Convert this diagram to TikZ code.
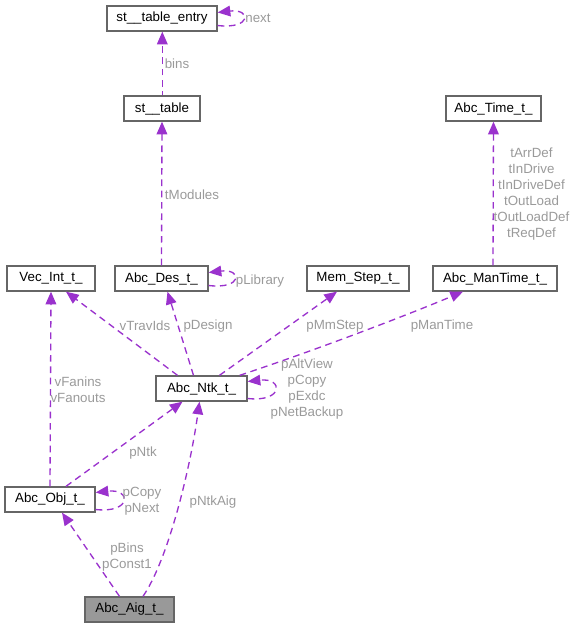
\documentclass[tikz,border=0pt]{standalone}
\usepackage{fontspec}
\setmainfont{Liberation Sans}
\usepackage{xcolor}
\usetikzlibrary{arrows.meta,calc}
\definecolor{edgepurple}{HTML}{9A32CD}
\definecolor{lblgray}{HTML}{9A9A9A}
\definecolor{boxgray}{HTML}{666666}
\definecolor{aigfill}{HTML}{999999}
\begin{document}
\begin{tikzpicture}[
    x=0.75pt, y=-0.75pt,
    cls/.style={draw=boxgray, line width=1pt, fill=white, inner sep=0pt, minimum height=18.75pt, font=\fontsize{10}{12}\selectfont},
    rel/.style={draw=edgepurple, line width=1pt, dash pattern=on 5pt off 3.5pt, -{Triangle[length=9.5pt, width=8pt, fill=edgepurple]}},
    lbl/.style={text=lblgray, align=center, inner sep=0pt, font=\fontsize{10}{12}\selectfont}
]
\useasboundingbox (0,0) rectangle (575,629);
\node[cls, minimum width=82.5pt] (stentry) at (162,18.5) {st\_\_table\_entry};
\node[cls, minimum width=57pt] (sttable) at (162,108.5) {st\_\_table};
\node[cls, minimum width=71.25pt] (time) at (493.5,108.5) {Abc\_Time\_t\_};
\node[cls, minimum width=66pt] (vecint) at (51,278.5) {Vec\_Int\_t\_};
\node[cls, minimum width=69.75pt] (des) at (161.5,278.5) {Abc\_Des\_t\_};
\node[cls, minimum width=76.5pt] (memstep) at (358,278.5) {Mem\_Step\_t\_};
\node[cls, minimum width=93pt] (mantime) at (495,278.5) {Abc\_ManTime\_t\_};
\node[cls, minimum width=68.25pt] (ntk) at (201.5,388.5) {Abc\_Ntk\_t\_};
\node[cls, minimum width=67.5pt] (obj) at (50,499.5) {Abc\_Obj\_t\_};
\node[cls, minimum width=66.75pt, fill=aigfill] (aig) at (129.5,609.5) {Abc\_Aig\_t\_};
% self references
\draw[rel] ($(stentry.east)+(0,7)$) .. controls +(34,4) and +(34,-4) .. ($(stentry.east)+(0,-6)$);
\draw[rel] ($(des.east)+(0,7)$) .. controls +(34,4) and +(34,-4) .. ($(des.east)+(0,-6)$);
\draw[rel] ($(ntk.east)+(0,10)$) .. controls +(36,4) and +(36,-4) .. ($(ntk.east)+(0,-7)$);
\draw[rel] ($(obj.east)+(0,10)$) .. controls +(36,4) and +(36,-4) .. ($(obj.east)+(0,-7)$);
\node[lbl] (lnext) at (258,18) {next};
\node[lbl] (llib) at (260,281) {pLibrary};
\node[lbl] (lntkself) at (307,389) {pAltView\\pCopy\\pExdc\\pNetBackup};
\node[lbl] (lobjself) at (142,501.5) {pCopy\\pNext};
% members
\draw[rel, dash phase=2pt] ($(sttable.north)+(0.3,0)$) -- ($(stentry.south)+(0.3,0)$);
\draw[rel] (des.north) -- (sttable.south);
\draw[rel] ($(mantime.north)+(-2,0)$) -- (time.south);
\draw[rel] ($(ntk.north)+(-24,0)$) -- ($(vecint.south)+(15,0)$);
\draw[rel] ($(ntk.north)+(-8,0)$) -- ($(des.south)+(6,0)$);
\draw[rel] ($(ntk.north)+(18,0)$) -- ($(memstep.south)+(-21,0)$);
\draw[rel] ($(ntk.north east)+(-8,0)$) .. controls (310,352) and (400,318) .. ($(mantime.south)+(-32,0)$);
\draw[rel] (obj.north) -- (vecint.south);
\draw[rel] ($(obj.north)+(16,0)$) -- ($(ntk.south)+(-19,0)$);
\draw[rel] ($(aig.north)+(-10,0)$) -- ($(obj.south)+(12,0)$);
\draw[rel] ($(aig.north)+(13.5,0)$) .. controls (168,560) and (190,470) .. ($(ntk.south)+(-2,0)$);
\node[lbl] (lbins) at (177,64) {bins};
\node[lbl] (lmodules) at (192,195) {tModules};
\node[lbl] (ltime) at (531.5,194.5) {tArrDef\\tInDrive\\tInDriveDef\\tOutLoad\\tOutLoadDef\\tReqDef};
\node[lbl] (ltrav) at (145,326) {vTravIds};
\node[lbl] (ldesign) at (208,326) {pDesign};
\node[lbl] (lmmstep) at (335,326) {pMmStep};
\node[lbl] (lmantime) at (442,326) {pManTime};
\node[lbl] (lfanins) at (78,389.5) {vFanins\\vFanouts};
\node[lbl] (lntk) at (143,453) {pNtk};
\node[lbl] (lntkaig) at (213,502) {pNtkAig};
\node[lbl] (lbinsaig) at (127,557.5) {pBins\\pConst1};
\end{tikzpicture}
\end{document}
